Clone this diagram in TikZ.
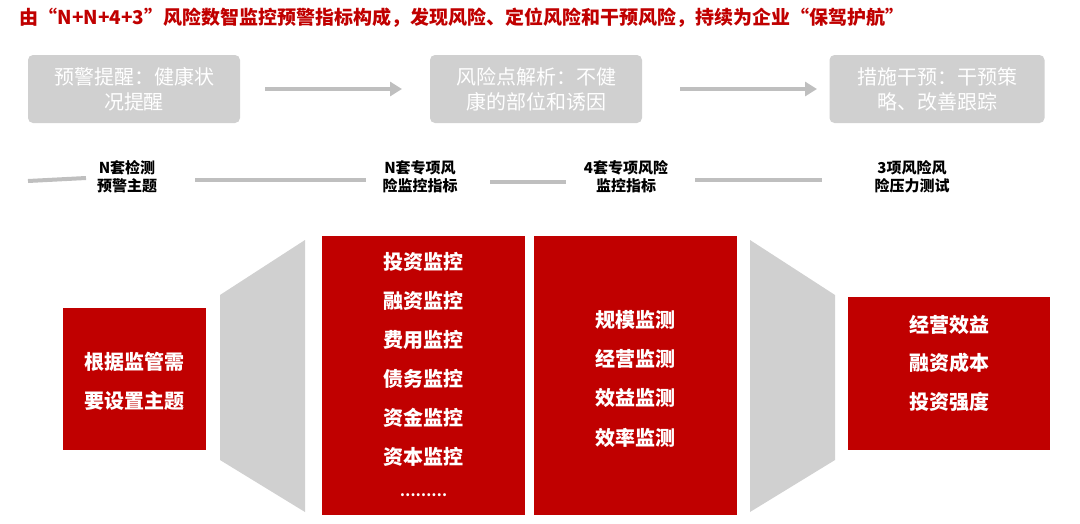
\documentclass[tikz,border=0pt]{standalone}
\usepackage{fontspec}
\setmainfont{Noto Sans CJK SC}
\usetikzlibrary{arrows.meta}
\definecolor{myred}{HTML}{C00000}
\definecolor{mygray}{HTML}{D0D0D0}
\definecolor{linegray}{HTML}{BFBFBF}
\begin{document}
\begin{tikzpicture}[x=1pt,y=-1pt,
  gbox/.style={fill=mygray,rounded corners=5pt,align=center,text=white,font=\fontsize{20}{25}\selectfont,inner sep=0pt},
  rbox/.style={fill=myred,draw=none},
  rtext/.style={text=white,font=\bfseries\fontsize{20}{24}\selectfont},
  lbl/.style={font=\bfseries\fontsize{15}{18}\selectfont,align=center},
  gline/.style={linegray,line width=4pt},
  garrow/.style={linegray,line width=4pt,-{Triangle[length=12pt,width=14pt]}},
  trap/.style={fill=mygray,draw=none}]
\useasboundingbox (0,0) rectangle (1080,523);
\node[text=myred,font=\bfseries\fontsize{19}{22}\selectfont,anchor=west] (title) at (16,18) {由“N+N+4+3”风险数智监控预警指标构成，发现风险、定位风险和干预风险，持续为企业“保驾护航”};
\node[gbox,minimum width=212pt,minimum height=68pt] (g1) at (134,89) {预警提醒：健康状\\况提醒};
\node[gbox,minimum width=212pt,minimum height=68pt] (g2) at (536,89) {风险点解析：不健\\康的部位和诱因};
\node[gbox,minimum width=215pt,minimum height=68pt] (g3) at (937,89) {措施干预：干预策\\略、改善跟踪};
\coordinate (a1s) at (265,89); \coordinate (a1e) at (402,89);
\coordinate (a2s) at (680,89); \coordinate (a2e) at (817,89);
\draw[garrow] (a1s) -- (a1e);
\draw[garrow] (a2s) -- (a2e);
\node[lbl] (l1) at (127,177) {N套检测\\预警主题};
\node[lbl] (l2) at (420,177) {N套专项风\\险监控指标};
\node[lbl] (l3) at (626,177) {4套专项风险\\监控指标};
\node[lbl] (l4) at (912,177) {3项风险风\\险压力测试};
\coordinate (s1a) at (28,181); \coordinate (s1b) at (86,178);
\coordinate (s2a) at (195,180); \coordinate (s2b) at (366,180);
\coordinate (s3a) at (490,182); \coordinate (s3b) at (566,182);
\coordinate (s4a) at (695,180); \coordinate (s4b) at (822,180);
\draw[gline] (s1a) -- (s1b);
\draw[gline] (s2a) -- (s2b);
\draw[gline] (s3a) -- (s3b);
\draw[gline] (s4a) -- (s4b);
% trapezoids
\fill[trap] (220,295) -- (305,240) -- (305,512) -- (220,460) -- cycle;
\fill[trap] (750,240) -- (835,295) -- (835,460) -- (750,512) -- cycle;
% red boxes
\fill[rbox] (63,308) rectangle (206,450);
\fill[rbox] (322,236) rectangle (525,515);
\fill[rbox] (534,236) rectangle (737,515);
\fill[rbox] (848,297) rectangle (1050,450);
\node[rtext] (t1) at (134.5,362) {根据监管需};
\node[rtext] (t2) at (134.5,401) {要设置主题};
\foreach \t/\y [count=\i] in {投资监控/262,融资监控/301,费用监控/340,债务监控/379,资金监控/418,资本监控/457}
  \node[rtext] (c\i) at (423.5,\y) {\t};
\node[rtext,font=\bfseries\fontsize{14}{16}\selectfont] (c7) at (423.5,495) {………};
\foreach \t/\y [count=\i] in {规模监测/320,经营监测/359,效益监测/398,效率监测/438}
  \node[rtext] (d\i) at (635.5,\y) {\t};
\foreach \t/\y [count=\i] in {经营效益/325,融资成本/363,投资强度/402}
  \node[rtext] (e\i) at (949,\y) {\t};
\end{tikzpicture}
\end{document}
